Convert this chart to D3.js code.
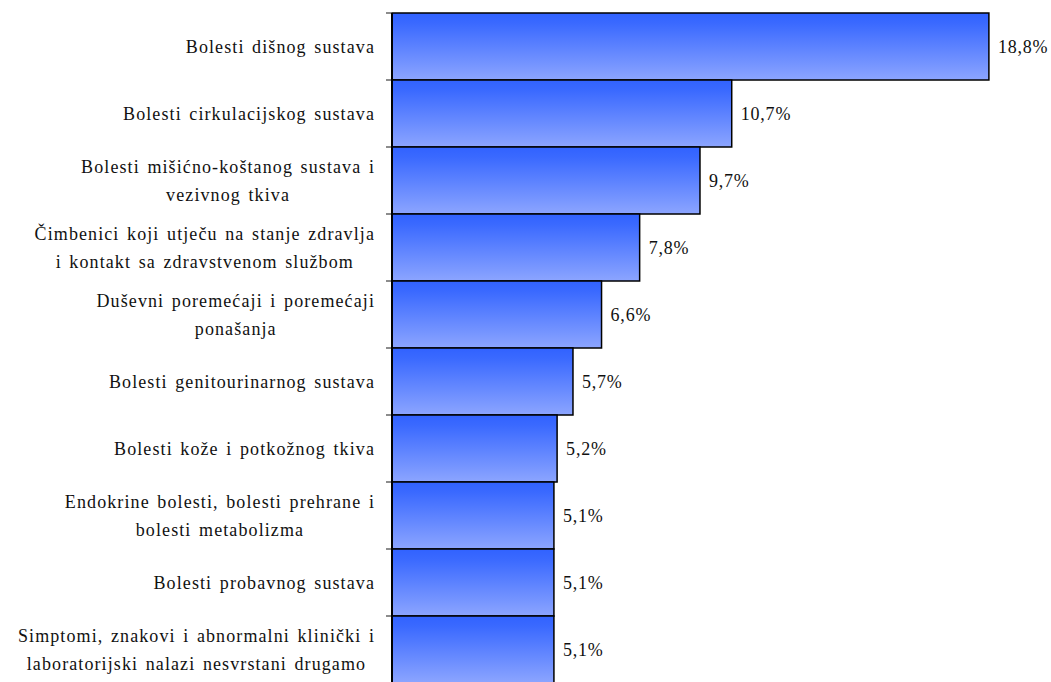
<!DOCTYPE html>
<html>
<head>
<meta charset="utf-8">
<script src="https://cdn.jsdelivr.net/npm/d3@7"></script>
<style>
  html, body { margin: 0; padding: 0; background: #fff; }
</style>
</head>
<body>
<svg id="svg"></svg>
<script>
// categories (line breaks as in the reference)
const categories = [
  'Bolesti dišnog sustava',
  'Bolesti cirkulacijskog sustava',
  'Bolesti mišićno-koštanog sustava i\nvezivnog tkiva',
  'Čimbenici koji utječu na stanje zdravlja\ni kontakt sa zdravstvenom službom',
  'Duševni poremećaji i poremećaji\nponašanja',
  'Bolesti genitourinarnog sustava',
  'Bolesti kože i potkožnog tkiva',
  'Endokrine bolesti, bolesti prehrane i\nbolesti metabolizma',
  'Bolesti probavnog sustava',
  'Simptomi, znakovi i abnormalni klinički i\nlaboratorijski nalazi nesvrstani drugamo'
]
const values = [18.8, 10.7, 9.7, 7.8, 6.6, 5.7, 5.2, 5.1, 5.1, 5.1]
const valueLabels = ['18,8%', '10,7%', '9,7%', '7,8%', '6,6%', '5,7%', '5,2%', '5,1%', '5,1%', '5,1%']

const w = 1051
const h = 682
const font = "'Liberation Serif', 'Times New Roman', Times, serif"

const svg = d3.select('#svg')
  .attr('width', w)
  .attr('height', h)

// gradient for bars
const grad = svg.append('defs').append('linearGradient')
  .attr('id', 'barGrad')
  .attr('x1', 0).attr('y1', 0).attr('x2', 0).attr('y2', 1)
grad.append('stop').attr('offset', '0%').attr('stop-color', '#3162ff')
grad.append('stop').attr('offset', '15%').attr('stop-color', '#3a69ff')
grad.append('stop').attr('offset', '100%').attr('stop-color', '#8ca5ff')

const xScale = d3.scaleLinear()
  .domain([0, 20])
  .range([392, 1027])

const yScale = d3.scaleBand()
  .domain(categories)
  .range([13, 683])
  .padding(0)

// bars
svg.selectAll('rect.bar')
  .data(values)
  .enter()
  .append('rect')
  .attr('class', 'bar')
  .attr('x', xScale(0))
  .attr('y', (d, i) => yScale(categories[i]))
  .attr('width', d => xScale(d) - xScale(0))
  .attr('height', yScale.bandwidth())
  .attr('fill', 'url(#barGrad)')
  .attr('stroke', '#000')
  .attr('stroke-width', 1.5)

// axis: ticks at band edges
const edges = categories.map(c => yScale(c)).concat([yScale.range()[1]])
svg.selectAll('line.tick')
  .data(edges)
  .enter()
  .append('line')
  .attr('x1', xScale(0) - 6)
  .attr('x2', xScale(0))
  .attr('y1', d => d)
  .attr('y2', d => d)
  .attr('stroke', '#666')
  .attr('stroke-width', 1.5)

svg.append('line')
  .attr('x1', xScale(0)).attr('x2', xScale(0))
  .attr('y1', yScale.range()[0]).attr('y2', h)
  .attr('stroke', '#000')
  .attr('stroke-width', 2)

// value labels
svg.selectAll('text.value')
  .data(values)
  .enter()
  .append('text')
  .attr('class', 'value')
  .attr('font-family', font)
  .attr('font-size', 18)
  .attr('letter-spacing', 0.8)
  .attr('fill', '#111')
  .attr('x', d => xScale(d) + 9)
  .attr('y', (d, i) => yScale(categories[i]) + yScale.bandwidth() / 2)
  .attr('dy', '0.35em')
  .text((d, i) => valueLabels[i])

// category labels, lines centred on each other, right edge at 375
const labelRight = 375
const lineH = 28
svg.selectAll('text.cat')
  .data(categories)
  .enter()
  .append('text')
  .attr('class', 'cat')
  .attr('font-family', font)
  .attr('font-size', 18)
  .attr('letter-spacing', 1.1)
  .attr('word-spacing', 2)
  .attr('fill', '#111')
  .attr('text-anchor', 'middle')
  .each(function (d) {
    const lines = d.split('\n')
    const cy = yScale(d) + yScale.bandwidth() / 2
    const t = d3.select(this)
    lines.forEach((ln, i) => {
      t.append('tspan')
        .attr('y', cy + (i - (lines.length - 1) / 2) * lineH)
        .attr('dy', '0.35em')
        .text(ln)
    })
    let maxW = 0
    t.selectAll('tspan').each(function () {
      maxW = Math.max(maxW, this.getComputedTextLength())
    })
    t.selectAll('tspan').attr('x', labelRight - maxW / 2)
  })
</script>
</body>
</html>
